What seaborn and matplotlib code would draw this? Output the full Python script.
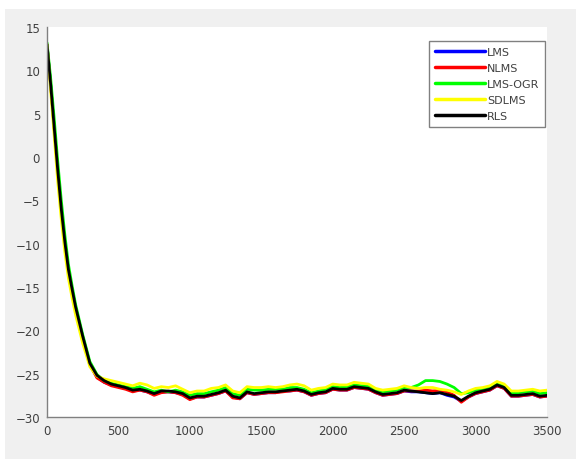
# Curvas de aprendizaje (MSE en dB) de los algoritmos adaptativos
import pandas as pd
import matplotlib
matplotlib.use('Agg')
import matplotlib.pyplot as plt
from matplotlib.patches import Rectangle
import seaborn as sns

# Eje de iteraciones
iteraciones = [0, 25, 50, 75, 100, 125, 150, 175, 200, 250, 300, 350, 400] + list(range(450, 3501, 50))

lms = [13, 8.5, 3.4, -1.6, -6.1, -9.9, -13.1, -15.3, -17.4, -20.8, -23.9, -25.4, -26.0,
       -26.3, -26.5, -26.7, -27.0, -26.9, -27.1, -27.4, -27.1, -27.1, -27.2,
       -27.4, -27.9, -27.7, -27.7, -27.5, -27.3, -27.0, -27.7, -27.9, -27.2,
       -27.4, -27.3, -27.2, -27.2, -27.0, -27.0, -26.9, -27.1, -27.5, -27.3,
       -27.2, -26.8, -26.9, -26.9, -26.6, -26.7, -26.8, -27.2, -27.5, -27.4,
       -27.3, -27.0, -27.1, -27.1, -27.2, -27.3, -27.2, -27.5, -27.7, -28.2,
       -27.7, -27.3, -27.1, -26.9, -26.4, -26.7, -27.6, -27.6, -27.5, -27.4,
       -27.7, -27.6]

nlms = [13, 8.4, 3.3, -1.7, -6.2, -10, -13.2, -15.4, -17.5, -20.9, -24.0, -25.5, -26.0,
        -26.4, -26.6, -26.8, -27.1, -26.9, -27.1, -27.5, -27.2, -27.1, -27.2,
        -27.5, -28.0, -27.7, -27.7, -27.5, -27.3, -27.0, -27.8, -27.9, -27.2,
        -27.4, -27.3, -27.2, -27.2, -27.1, -27.0, -26.9, -27.1, -27.5, -27.3,
        -27.2, -26.8, -26.9, -26.9, -26.6, -26.7, -26.8, -27.2, -27.5, -27.4,
        -27.3, -27.0, -27.0, -27.0, -26.9, -27.0, -26.9, -27.1, -27.5, -28.3,
        -27.7, -27.3, -27.1, -26.9, -26.4, -26.7, -27.6, -27.6, -27.5, -27.4,
        -27.7, -27.6]

lms_ogr = [13.2, 9.2, 4.5, -0.5, -5, -9, -12.4, -14.8, -17, -20.5, -23.6, -25.1, -25.8,
           -26.1, -26.3, -26.5, -26.7, -26.5, -26.8, -27.1, -26.9, -27.1, -26.9,
           -27.1, -27.5, -27.3, -27.3, -27.1, -26.9, -26.6, -27.3, -27.5, -26.8,
           -26.9, -26.9, -26.8, -26.8, -26.8, -26.6, -26.6, -26.8, -27.2, -27.0,
           -26.8, -26.5, -26.6, -26.5, -26.3, -26.4, -26.4, -26.9, -27.1, -27.0,
           -26.9, -26.6, -26.6, -26.3, -25.8, -25.8, -25.9, -26.2, -26.6, -27.3,
           -27.2, -26.9, -26.8, -26.6, -26.1, -26.4, -27.2, -27.2, -27.1, -27.0,
           -27.3, -27.2]

sdlms = [13, 7.8, 2.5, -2.8, -7.2, -11, -14, -16.2, -18.2, -21.5, -24.2, -25.3, -25.6,
         -25.8, -26.0, -26.2, -26.4, -26.1, -26.3, -26.7, -26.5, -26.6, -26.4,
         -26.8, -27.2, -27.0, -27.0, -26.7, -26.6, -26.3, -27.0, -27.2, -26.5,
         -26.6, -26.6, -26.5, -26.6, -26.5, -26.3, -26.2, -26.4, -26.9, -26.7,
         -26.6, -26.2, -26.3, -26.3, -26.0, -26.1, -26.2, -26.7, -26.9, -26.8,
         -26.7, -26.4, -26.6, -26.7, -26.6, -26.6, -26.8, -26.9, -27.1, -27.4,
         -27.0, -26.7, -26.6, -26.4, -25.9, -26.2, -27.0, -27.0, -26.9, -26.8,
         -27.0, -26.9]

rls = [13, 8.5, 3.5, -1.5, -6, -9.8, -13, -15.2, -17.3, -20.7, -23.8, -25.2, -25.8,
       -26.2, -26.4, -26.6, -26.9, -26.8, -27.0, -27.3, -27.0, -27.0, -27.1,
       -27.3, -27.8, -27.6, -27.6, -27.4, -27.2, -26.9, -27.6, -27.8, -27.1,
       -27.3, -27.2, -27.1, -27.1, -27.0, -26.9, -26.8, -27.0, -27.4, -27.2,
       -27.1, -26.7, -26.8, -26.8, -26.5, -26.6, -26.7, -27.1, -27.4, -27.3,
       -27.2, -26.9, -27.0, -27.1, -27.2, -27.3, -27.2, -27.4, -27.6, -28.1,
       -27.6, -27.2, -27.0, -26.8, -26.3, -26.6, -27.5, -27.5, -27.4, -27.3,
       -27.6, -27.5]

algoritmos = ['LMS', 'NLMS', 'LMS-OGR', 'SDLMS', 'RLS']
colores = ['#0000ff', '#ff0000', '#00ff00', '#ffff00', '#000000']

# DataFrame en formato largo para seaborn
series = [lms, nlms, lms_ogr, sdlms, rls]
df = pd.concat([pd.DataFrame({'n': iteraciones, 'mse': s, 'alg': a})
                for a, s in zip(algoritmos, series)], ignore_index=True)

sns.set_style('white')
plt.rcParams['font.family'] = ['DejaVu Sans']

fig = plt.figure(figsize=(5.76, 4.6), dpi=100, facecolor='white')
# Fondo gris estilo MATLAB
fig.patches.append(Rectangle((5 / 576, 0), 1, 1 - 10 / 460, transform=fig.transFigure,
                             facecolor='#f0f0f0', edgecolor='none', zorder=-1))
ax = fig.add_axes([47 / 576, 42 / 460, 500 / 576, 390 / 460])
ax.set_facecolor('white')

sns.lineplot(data=df, x='n', y='mse', hue='alg', hue_order=algoritmos,
             palette=colores, linewidth=2, estimator=None, sort=True, ax=ax)

ax.set_xlim(0, 3500)
ax.set_ylim(-30, 15)
ax.set_xticks(range(0, 3501, 500))
ax.set_yticks(range(-30, 16, 5))
ax.set_xlabel('')
ax.set_ylabel('')

for s in ['top', 'right']:
    ax.spines[s].set_visible(False)
for s in ['left', 'bottom']:
    ax.spines[s].set_color('#808080')
    ax.spines[s].set_linewidth(1)
ax.tick_params(direction='in', length=4, width=1, color='#808080',
               labelsize=8.5, labelcolor='#404040', pad=5)

sns.move_legend(ax, 'upper right', bbox_to_anchor=(0.996, 0.964), borderaxespad=0,
                title=None, frameon=True, fancybox=False, fontsize=8,
                handlelength=4.5, handletextpad=0.2, labelspacing=0.55,
                borderpad=0.5, edgecolor='#808080', framealpha=1)
leg = ax.get_legend()
for t in leg.get_texts():
    t.set_color('#404040')
for h in leg.legend_handles:
    h.set_linewidth(2.5)

fig.savefig('out.png', dpi=100, facecolor=fig.get_facecolor())
